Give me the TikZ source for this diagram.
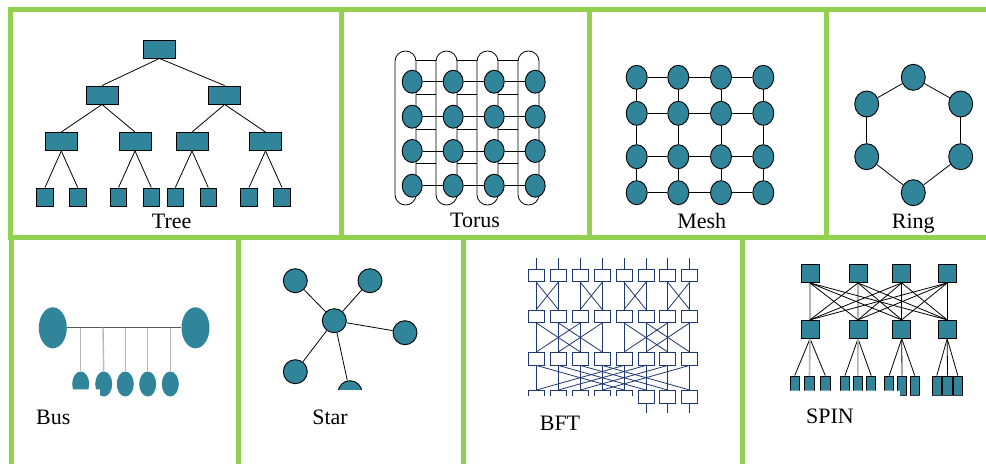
\documentclass[tikz,border=0pt]{standalone}
\usepackage{fontspec}
\setmainfont{Liberation Serif}
\usetikzlibrary{shapes.geometric}

\definecolor{frame}{RGB}{146,208,80}
\definecolor{nodeteal}{RGB}{49,133,155}
\definecolor{bftblue}{RGB}{31,56,110}

\tikzset{
  panel/.style={draw=frame, line width=5pt},
  link/.style={black, line width=0.8pt},
  tbox/.style={rectangle, draw=black, fill=nodeteal, line width=0.9pt, inner sep=0pt, minimum width=32pt, minimum height=18pt},
  tleaf/.style={tbox, minimum width=16.5pt},
  dot/.style={ellipse, draw=black, fill=nodeteal, line width=0.9pt, inner sep=0pt, minimum width=21pt, minimum height=23pt},
  busdot/.style={ellipse, fill=nodeteal, inner sep=0pt},
  fbox/.style={rectangle, draw=bftblue, fill=white, line width=0.9pt, inner sep=0pt, minimum width=16pt, minimum height=12.5pt},
  flink/.style={bftblue, line width=0.8pt},
  sbox/.style={tbox, minimum width=18pt, minimum height=18pt},
  sleaf/.style={tbox, minimum width=9.3pt, minimum height=19.5pt},
  thick link/.style={gray!60, line width=1.6pt},
  caption/.style={font=\fontsize{22}{26}\selectfont, anchor=base, inner sep=0pt},
}

\begin{document}
\begin{tikzpicture}[x=1pt, y=-1pt]
  \useasboundingbox (0,0) rectangle (986,464);

  % panels
  \draw[panel] (986,9.5) -- (10.5,9.5) -- (10.5,237) -- (986,237);
  \draw[panel] (11.5,237) -- (11.5,464);
  \foreach \x in {341,589,826.5} \draw[panel] (\x,9.5) -- (\x,237);
  \foreach \x in {238.5,463,742} \draw[panel] (\x,237) -- (\x,464);

  % tree
  \node[tbox] (t) at (159.5,49) {};
  \node[tbox] (t1) at (102,95) {};
  \node[tbox] (t2) at (224.7,95) {};
  \foreach \n/\x in {11/61.3,12/135,21/192,22/265.5} \node[tbox] (t\n) at (\x,141.5) {};
  \foreach \n/\x in {111/45,112/77.7,121/118.5,122/151.3,211/175.3,212/208.3,221/249,222/282}
    \node[tleaf] (t\n) at (\x,197) {};
  \foreach \p in {1,2} {
    \draw[link] (t.south) -- (t\p.north);
    \foreach \q in {1,2} {
      \draw[link] (t\p.south) -- (t\p\q.north);
      \foreach \r in {1,2} \draw[link] (t\p\q.south) -- (t\p\q\r.north);
    }
  }
  \node[caption] (treelbl) at (171.7,228) {Tree};

  % torus
  \foreach \l in {395,436,477,518}
    \draw[link, rounded corners=10.4pt] (\l,51) rectangle (\l+21,205);
  \foreach \l/\n in {395/436,436/477,477/518}
    \foreach \y in {60,94.5,129,163.5} \draw[link] (\l+21,\y) -- (\n,\y);
  \foreach \i/\x in {1/412.2,2/453.2,3/494.2,4/535.2}
    \foreach \j/\y in {1/81.7,2/116.7,3/151,4/185.7}
      \node[dot, minimum width=20pt] (o\i\j) at (\x,\y) {};
  \foreach \i/\k in {1/2,2/3,3/4}
    \foreach \j in {1,...,4} \draw[link] (o\i\j) -- (o\k\j);
  \node[caption] (toruslbl) at (475,227.7) {Torus};

  % mesh
  \foreach \i/\x in {1/636.7,2/678.3,3/721,4/763.3}
    \foreach \j/\y in {1/77.3,2/113.3,3/156.7,4/192.7}
      \node[dot, minimum height=24pt] (m\i\j) at (\x,\y) {};
  \foreach \i/\k in {1/2,2/3,3/4}
    \foreach \j in {1,...,4} {
      \draw[link] (m\i\j) -- (m\k\j);
      \draw[link] (m\j\i) -- (m\j\k);
    }
  \node[caption] (meshlbl) at (701.7,228.3) {Mesh};

  % ring
  \foreach \n/\x/\y in {1/913.3/77.3,2/960.7/104,3/960.7/156.7,4/913.3/192.7,5/866.7/156.7,6/866.7/104}
    \node[dot, minimum width=24pt, minimum height=26pt] (r\n) at (\x,\y) {};
  \foreach \a/\b in {1/2,2/3,3/4,4/5,5/6,6/1} \draw[link] (r\a) -- (r\b);
  \node[caption] (ringlbl) at (913.3,228) {Ring};

  % bus
  \node[busdot, minimum width=28pt, minimum height=41pt] (bl) at (52.8,327.8) {};
  \node[busdot, minimum width=28pt, minimum height=41pt] (br) at (195.5,327.8) {};
  \draw[black!65, line width=1pt] (bl) -- (br);
  \begin{scope}
    \clip (20,300) rectangle (100,389.3) (100,300) rectangle (230,420);
    \foreach \n/\x/\s in {1/80.7/80.7,2/103.7/103,3/125.3/125.3,4/147.7/147.7,5/170.3/170.3} {
      \node[busdot, minimum width=17pt, minimum height=25pt] (bs\n) at (\x,384) {};
      \coordinate (bx\n) at (\s,327.7);
      \draw[gray!55, line width=1.4pt] (bx\n) -- (bs\n.north);
    }
  \end{scope}
  \node[caption] (buslbl) at (53.3,424.3) {Bus};

  % star
  \begin{scope}
    \clip (250,250) rectangle (450,389.3);
    \node[dot, minimum width=24pt, minimum height=24pt] (s) at (334.3,320.7) {};
    \foreach \n/\x/\y in {1/295.3/280.7,2/370/280.7,3/405/332.7,4/295.3/371.7,5/350/392.7} {
      \node[dot, minimum width=24pt, minimum height=24pt] (s\n) at (\x,\y) {};
      \draw[link] (s) -- (s\n);
    }
  \end{scope}
  \node[caption] (starlbl) at (330,424.3) {Star};

  % bft
  \begin{scope}
    \clip (500,250) rectangle (638,396) (638,250) rectangle (720,420);
    \foreach \c/\x in {1/536.3,2/558.3,3/580.3,4/602.3,5/624,6/646,7/667.7,8/689.7} {
      \coordinate (ftop\c) at (\x,258.3);
      \foreach \r/\y in {1/275.5,2/316.2,3/358.7,4/396.7}
        \node[fbox] (f\r\c) at (\x,\y) {};
      \draw[flink] (ftop\c) -- (f1\c.north);
      \foreach \r/\s in {1/2,2/3,3/4} \draw[flink] (f\r\c.south) -- (f\s\c.north);
    }
    \foreach \a/\b in {1/2,2/1,3/4,4/3,5/6,6/5,7/8,8/7} \draw[flink] (f1\a.south) -- (f2\b.north);
    \foreach \a/\b in {1/3,3/1,2/4,4/2,5/7,7/5,6/8,8/6} \draw[flink] (f2\a.south) -- (f3\b.north);
    \foreach \a/\b in {1/5,5/1,2/6,6/2,3/7,7/3,4/8,8/4} \draw[flink] (f3\a.south) -- (f4\b.north);
    \foreach \c/\x in {6/646,7/667.7,8/689.7} {
      \coordinate (fbot\c) at (\x,412.7);
      \draw[flink] (f4\c.south) -- (fbot\c);
    }
  \end{scope}
  \node[caption] (bftlbl) at (560,430) {BFT};

  % spin
  \foreach \i/\x in {1/810,2/858,3/901.7,4/947.2} {
    \node[sbox] (pt\i) at (\x,273.5) {};
    \node[sbox] (pm\i) at (\x,329.3) {};
  }
  \foreach \i in {1,2} \draw[thick link] (pt\i.south) -- (pm\i.north);
  \foreach \i in {1,...,4}
    \foreach \j in {1,...,4} {
      \ifnum\i=\j \ifnum\i<3 \else \draw[link] (pt\i.south) -- (pm\j.north); \fi
      \else \draw[link] (pt\i.south) -- (pm\j.north); \fi
    }
  \begin{scope}
    \clip (780,360) rectangle (900,390.7) (900,360) rectangle (980,395.5);
    \foreach \i/\xa/\xb/\xc in {1/794.7/809.5/825.3,2/845/857.8/871.2,3/889.2/902/914.8,4/936.8/947.5/957.8} {
      \node[sleaf] (pl\i1) at (\xa,385.75) {};
      \node[sleaf] (pl\i2) at (\xb,385.75) {};
      \node[sleaf] (pl\i3) at (\xc,385.75) {};
    }
  \end{scope}
  \foreach \i in {1,...,4} {
    \draw[link] (pm\i.south) -- (pl\i1.north);
    \draw[link] (pm\i.south) -- (pl\i3.north);
    \ifnum\i<3 \draw[thick link] (pm\i.south) -- (pl\i2.north);
    \else \draw[link] (pm\i.south) -- (pl\i2.north); \fi
  }
  \node[caption] (spinlbl) at (830,423.3) {SPIN};
\end{tikzpicture}
\end{document}
